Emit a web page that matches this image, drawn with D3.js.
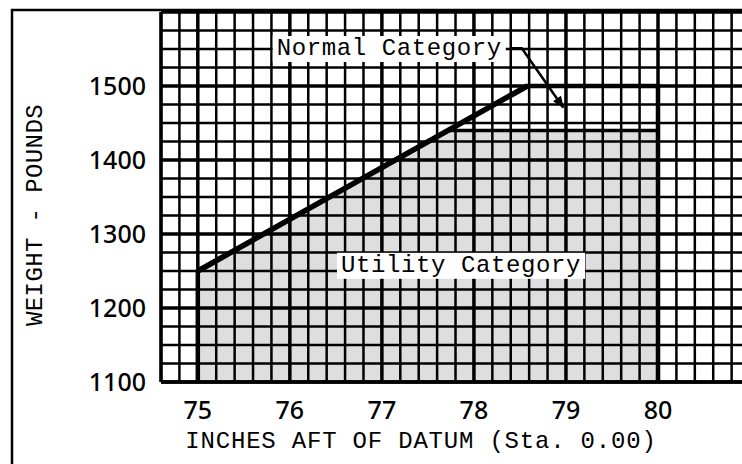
<html>
<head>
    <script src="https://d3js.org/d3.v7.min.js"></script>
</head>
<body style="margin:0;background:#fff">
    <svg id="cg_env" width="742" height="464"></svg>
</body>
<style>
    .mono{font-family:"Liberation Mono","DejaVu Sans Mono",monospace}
    .tick{font-family:"Noto Sans","Open Sans",sans-serif}
</style>
<script>
    // chart values
    const xTicks = [75, 76, 77, 78, 79, 80]
    const yTicks = [1100, 1200, 1300, 1400, 1500]
    const normalArm    = [75, 75, 78.58, 80, 80]
    const normalWeight = [1100, 1250, 1500, 1500, 1100]
    const utilityArm    = [75, 75, 77.72, 80, 80]
    const utilityWeight = [1100, 1250, 1440, 1440, 1100]
    const labels = [
        {text:'Normal Category', arm:77.08, weight:1550},
        {text:'Utility Category', arm:77.86, weight:1257}
    ]
    // leader from Normal label to envelope
    const arrowArm    = [78.4, 78.52, 78.97]
    const arrowWeight = [1551, 1551, 1471]

    let svg = d3.select('svg#cg_env')
    const W = +svg.attr('width'), H = +svg.attr('height')

    const x = d3.scaleLinear().domain([74.6, 80]).range([161, 658])
    const y = d3.scaleLinear().domain([1100, 1600]).range([382, 12])
    const xMax = x.invert(W)

    svg.append('defs').append('marker')
       .attr('id','arr').attr('viewBox','0 0 10 10')
       .attr('refX',9).attr('refY',5)
       .attr('markerWidth',18).attr('markerHeight',12)
       .attr('markerUnits','userSpaceOnUse')
       .attr('orient','auto')
       .append('path').attr('d','M0,1 L10,5 L0,9 z').attr('fill','black')

    // frame
    svg.append('path')
       .attr('d',`M12,${H} L12,10 L${W},10`)
       .attr('fill','none').attr('stroke','black').attr('stroke-width',2.5)

    const pts = (arms, wts) => arms.map((a,i)=>[x(a), y(wts[i])])

    // shaded utility area
    svg.append('path')
       .attr('d', d3.line()(pts(utilityArm, utilityWeight)) + 'Z')
       .attr('fill','#dedede')

    // grid
    let grid = svg.append('g')
    const vLines = d3.range(0, 40).map(i => +(74.6 + i*0.2).toFixed(1)).filter(v => v <= xMax + 0.01)
    const hLines = d3.range(1100, 1601, 25)
    grid.selectAll('line.v').data(vLines).join('line')
        .attr('class','v')
        .attr('x1',d=>x(d)).attr('x2',d=>x(d))
        .attr('y1',y(1600)).attr('y2',y(1100))
        .attr('stroke','black')
        .attr('stroke-width',d=>Math.abs(d-Math.round(d))<1e-6 ? 3.5 : 2.5)
    grid.selectAll('line.h').data(hLines).join('line')
        .attr('class','h')
        .attr('x1',x(74.6)).attr('x2',W)
        .attr('y1',d=>y(d)).attr('y2',d=>y(d))
        .attr('stroke','black')
        .attr('stroke-width',d=>d%100==0 ? 3.5 : 2.5)
    // left & bottom border heavier
    grid.append('line').attr('x1',x(74.6)).attr('x2',x(74.6))
        .attr('y1',y(1600)).attr('y2',y(1100)).attr('stroke','black').attr('stroke-width',3.5)
    grid.append('line').attr('x1',x(74.6)).attr('x2',W)
        .attr('y1',y(1100)).attr('y2',y(1100)).attr('stroke','black').attr('stroke-width',3.5)

    // envelopes
    svg.append('path')
       .attr('d', d3.line()(pts(utilityArm.slice(1,4), utilityWeight.slice(1,4))))
       .attr('fill','none').attr('stroke','black').attr('stroke-width',3.5)
    svg.append('path')
       .attr('d', d3.line()(pts(normalArm, normalWeight)))
       .attr('fill','none').attr('stroke','black').attr('stroke-width',4.5)
       .attr('stroke-linejoin','miter')
    svg.append('path')
       .attr('d', d3.line()(pts(normalArm.slice(1,3), normalWeight.slice(1,3))))
       .attr('fill','none').attr('stroke','black').attr('stroke-width',5.5)

    // labels with white boxes
    labels.forEach(l => {
        let g = svg.append('g')
        let t = g.append('text').attr('class','mono')
                 .attr('x',x(l.arm)).attr('y',y(l.weight)+6)
                 .attr('text-anchor','middle')
                 .attr('font-size','24px')
                 .attr('letter-spacing','0.6px')
                 .text(l.text)
        let b = t.node().getBBox()
        g.insert('rect','text')
         .attr('x',b.x-4).attr('y',b.y+1).attr('width',b.width+8).attr('height',b.height-1)
         .attr('fill','white')
    })

    svg.append('path')
       .attr('d', d3.line()(pts(arrowArm, arrowWeight)))
       .attr('fill','none').attr('stroke','black').attr('stroke-width',2.5)
       .attr('marker-end','url(#arr)')

    // tick labels
    svg.selectAll('text.yt').data(yTicks).join('text')
       .attr('class','yt tick')
       .attr('x',146).attr('y',d=>y(d))
       .attr('dy','0.36em')
       .attr('text-anchor','end')
       .attr('font-size','25px')
       .attr('font-weight','500')
       .text(d=>d)
    svg.selectAll('text.xt').data(xTicks).join('text')
       .attr('class','xt tick')
       .attr('x',d=>x(d)).attr('y',419)
       .attr('text-anchor','middle')
       .attr('font-size','25px')
       .attr('font-weight','500')
       .text(d=>d)

    // axis titles
    svg.append('text').attr('class','mono')
       .attr('transform','translate(42,215) rotate(-90)')
       .attr('text-anchor','middle')
       .attr('font-size','24px')
       .attr('letter-spacing','0.4px')
       .text('WEIGHT - POUNDS')
    svg.append('text').attr('class','mono')
       .attr('x',421).attr('y',448)
       .attr('text-anchor','middle')
       .attr('font-size','24px')
       .attr('letter-spacing','0.8px')
       .text('INCHES AFT OF DATUM (Sta. 0.00)')
</script>
</html>
